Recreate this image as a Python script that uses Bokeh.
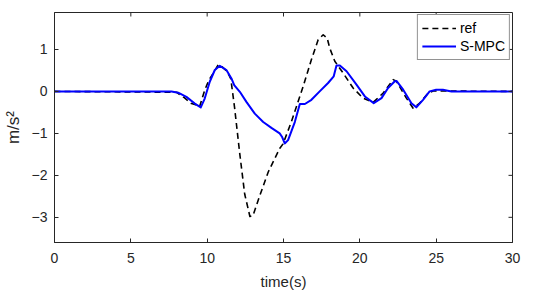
import math
from bokeh.plotting import figure
from bokeh.models import Range1d, FixedTicker, Legend, LegendItem
from bokeh.embed import file_html
from bokeh.resources import INLINE

# reference signal (dashed black)
t_ref = [0, 8.0, 8.5, 8.97, 9.4, 9.5, 9.84, 10.1, 10.39, 10.72, 11.0, 11.3, 11.55, 11.8,
         12.14, 12.46, 12.8, 13.0, 13.45, 14.0, 14.75, 14.97, 15.52, 15.85, 16.29, 16.83,
         17.27, 17.6, 17.86, 18.03, 18.36, 18.9, 19.56, 20.21, 20.87, 21.53, 22.18, 22.4,
         23.05, 23.49, 23.92, 24.47, 24.8, 30]
a_ref = [0, -0.02, -0.15, -0.29, -0.33, -0.37, 0.03, 0.26, 0.43, 0.63, 0.58, 0.48, 0.3, -0.4,
         -1.5, -2.45, -2.98, -2.96, -2.48, -1.92, -1.36, -1.25, -0.72, -0.36, 0.12, 0.76,
         1.23, 1.35, 1.27, 1.03, 0.72, 0.44, 0.08, -0.16, -0.26, -0.04, 0.28, 0.24,
         -0.16, -0.4, -0.28, -0.04, 0.01, 0.0]

# S-MPC signal (solid blue)
t_smpc = [0, 7.66, 8.1, 8.64, 9.19, 9.58, 9.84, 10.17, 10.5, 10.83, 11.26, 11.59, 11.77,
          12.14, 12.57, 13.12, 13.67, 14.21, 14.75, 14.9, 15.08, 15.3, 15.74, 16.07, 16.4,
          16.83, 17.37, 17.92, 18.29, 18.47, 18.69, 19.13, 19.78, 20.33, 20.91, 21.42, 21.85,
          22.29, 22.4, 22.84, 23.38, 23.7, 24.14, 24.57, 25.0, 25.44, 26.0, 30]
a_smpc = [0, 0, -0.03, -0.13, -0.29, -0.38, -0.17, 0.23, 0.51, 0.61, 0.51, 0.31, 0.15,
          -0.01, -0.25, -0.53, -0.73, -0.87, -1.0, -1.08, -1.24, -1.16, -0.73, -0.3, -0.3,
          -0.2, 0.0, 0.2, 0.36, 0.62, 0.62, 0.48, 0.16, -0.12, -0.28, -0.16, 0.08,
          0.24, 0.25, 0.04, -0.28, -0.38, -0.2, 0.0, 0.04, 0.04, 0.0, 0.0]

x_ticks = [0, 5, 10, 15, 20, 25, 30]
y_ticks = [-3, -2, -1, 0, 1]
x_lim = (0, 30)
y_lim = (-3.6, 1.88)
series_labels = ["ref", "S-MPC"]

AX = "#262626"
FONT = "Liberation Sans"

p = figure(frame_width=458, frame_height=230, output_backend="svg", toolbar_location=None,
           x_range=Range1d(*x_lim), y_range=Range1d(*y_lim),
           min_border_left=53, min_border_right=14, min_border_top=12, min_border_bottom=56)
p.background_fill_color = "white"
p.border_fill_color = "white"
p.grid.visible = False
p.outline_line_color = AX
p.outline_line_width = 1

r_ref = p.line(t_ref, a_ref, line_color="black", line_width=1.6, line_dash="6 4",
               line_join="round")
r_smpc = p.line(t_smpc, a_smpc, line_color="#0000ff", line_width=2, line_join="round")

for ax in (p.xaxis[0], p.yaxis[0]):
    ax.axis_line_color = AX
    ax.major_tick_line_color = AX
    ax.major_tick_in = 4
    ax.major_tick_out = 0
    ax.minor_tick_line_color = None
    ax.major_label_text_color = AX
    ax.major_label_text_font = FONT
    ax.major_label_text_font_size = "14px"
    ax.axis_label_text_color = AX
    ax.axis_label_text_font = FONT
    ax.axis_label_text_font_style = "normal"

p.xaxis[0].axis_label_text_font_size = "15px"
p.yaxis[0].axis_label_text_font_size = "17px"
p.xaxis[0].ticker = FixedTicker(ticks=x_ticks)
p.yaxis[0].ticker = FixedTicker(ticks=y_ticks)
p.xaxis[0].major_label_standoff = 10
p.yaxis[0].major_label_standoff = 7
p.xaxis[0].axis_label = "time(s)"
p.yaxis[0].axis_label = "m/s²"
p.xaxis[0].axis_label_standoff = 7
p.yaxis[0].axis_label_standoff = 6

# mirrored inward ticks on top and right edges of the box
p.ray(x=x_ticks, y=[y_lim[1]] * len(x_ticks), length=4, length_units="screen",
      angle=-math.pi / 2, line_color=AX, line_width=1)
p.ray(x=[x_lim[1]] * len(y_ticks), y=y_ticks, length=4, length_units="screen",
      angle=math.pi, line_color=AX, line_width=1)

legend = Legend(items=[LegendItem(label=series_labels[0], renderers=[r_ref]),
                       LegendItem(label=series_labels[1], renderers=[r_smpc])],
                location="top_right")
legend.margin = 2
legend.padding = 4
legend.spacing = 0
legend.glyph_width = 34
legend.glyph_height = 18
legend.label_height = 18
legend.label_standoff = 4
legend.label_text_font = FONT
legend.label_text_font_size = "14px"
legend.label_text_color = "black"
legend.border_line_color = AX
legend.border_line_width = 1
legend.background_fill_color = "white"
legend.background_fill_alpha = 1
p.add_layout(legend)

open("out.html", "w").write(file_html(p, INLINE))
